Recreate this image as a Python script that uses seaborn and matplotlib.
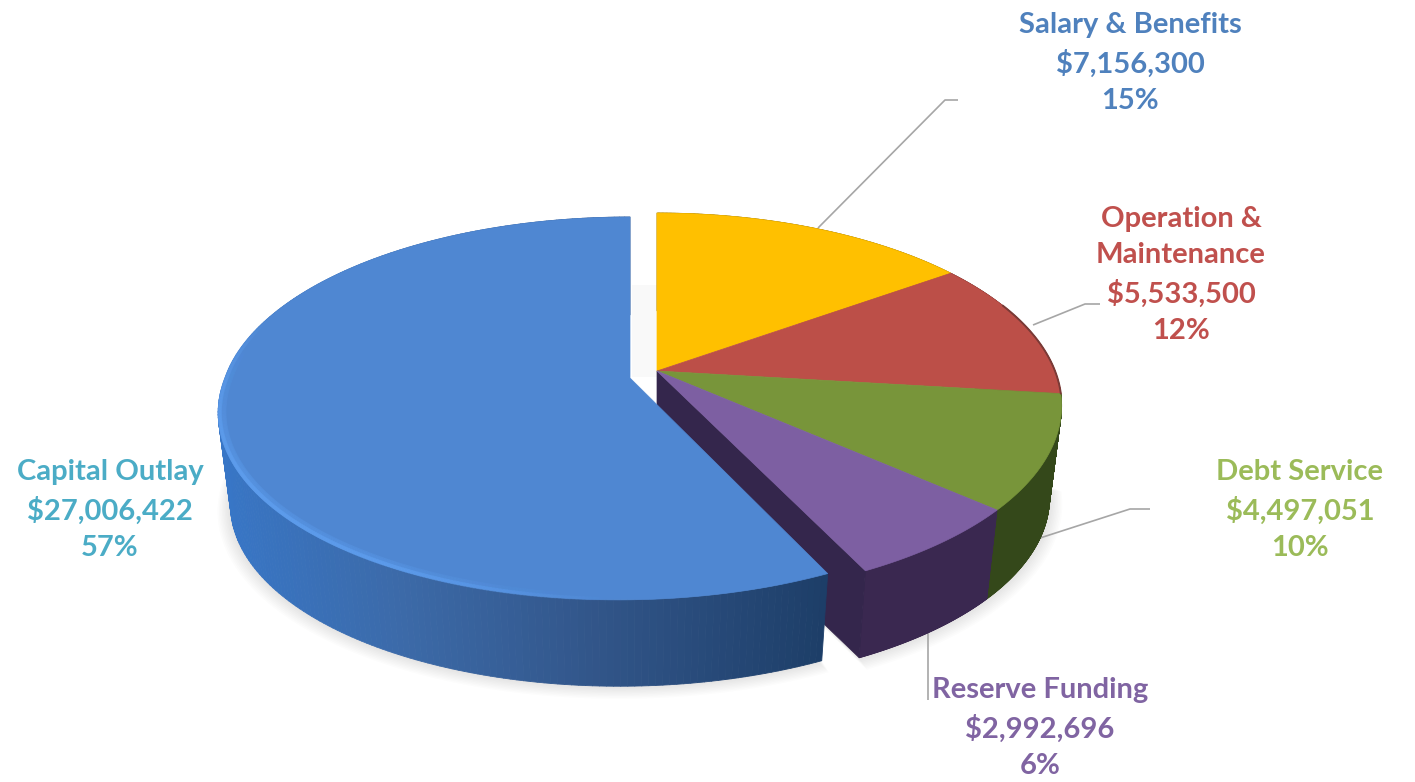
import numpy as np
import matplotlib
matplotlib.use("Agg")
import matplotlib.pyplot as plt
from matplotlib.collections import PolyCollection, LineCollection
from matplotlib.patches import Polygon, Rectangle
import seaborn as sns

# Budget figures, in dollars
categories = ["Salary & Benefits", "Operation &\nMaintenance", "Debt Service",
              "Reserve Funding", "Capital Outlay"]
amounts = [7156300, 5533500, 4497051, 2992696, 27006422]

sns.set_theme(style="white")
plt.rcParams["font.family"] = ["Lato", "DejaVu Sans"]

top_colors = sns.color_palette(["#FFC000", "#BC4F48", "#78953A", "#7D5FA2", "#4F87D2"])
side_colors = sns.color_palette(["#8C6A00", "#5E2723", "#34481A", "#3A2850", "#3A6FB5"])
label_colors = sns.color_palette(["#4F81BD", "#C0504D", "#9BBB59", "#8064A2", "#4BACC6"])

# Projection of the tilted disc onto the page, one set for each part of the pie
DEPTH, SHRINK = 93.0, 0.97
MAIN = dict(cx=657.0, cy=371.0, rx=398.0, ry=186.4, tilt=0.18, skew=0.0)
PULLED = dict(cx=630.0, cy=378.0, rx=405.0, ry=186.6, tilt=0.159, skew=0.05)

fig = plt.figure(figsize=(14.15, 7.82), dpi=100, facecolor="white")
ax = fig.add_axes([0, 0, 1, 1])
ax.set_xlim(0, 1415)
ax.set_ylim(782, 0)
ax.axis("off")


def top_point(disc, deg, r=1.0):
    t = np.radians(deg)
    x, y = r * np.sin(t), r * np.cos(t)
    w = 1 + disc["tilt"] * y
    dy = -disc["ry"] * y / w
    dx = disc["rx"] * x / w - disc["skew"] * np.maximum(dy, 0)
    return disc["cx"] + dx, disc["cy"] + dy


def bottom_point(disc, deg, r=1.0):
    px, py = top_point(disc, deg, r)
    return disc["cx"] + SHRINK * (px - disc["cx"]), disc["cy"] + DEPTH + SHRINK * (py - disc["cy"])


def arc(func, disc, a, b, n=160, r=1.0):
    degs = np.linspace(a, b, n)
    xs, ys = func(disc, degs, r)
    return np.column_stack([xs, ys])


def side_strip(disc, a, b, colour_at, z):
    degs = np.linspace(a, b, 240)
    tx, ty = top_point(disc, degs)
    bx, by = bottom_point(disc, degs)
    quads, cols = [], []
    for i in range(len(degs) - 1):
        quads.append([(tx[i], ty[i]), (tx[i + 1], ty[i + 1]), (bx[i + 1], by[i + 1]), (bx[i], by[i])])
        cols.append(colour_at((tx[i] + tx[i + 1]) / 2))
    ax.add_collection(PolyCollection(quads, facecolors=cols, edgecolors=cols, linewidths=0.6, zorder=z))


def top_face(disc, a, b, colour, z):
    pts = np.vstack([[(disc["cx"], disc["cy"])], arc(top_point, disc, a, b)])
    ax.add_patch(Polygon(pts, closed=True, facecolor=colour, edgecolor=colour, linewidth=0.5, zorder=z))


edges = 360.0 * np.concatenate([[0], np.cumsum(amounts)]) / np.sum(amounts)

# Soft ground shadow under the disc
for k in range(1, 10):
    for disc, a, b in [(PULLED, edges[4], 360.0), (MAIN, edges[2], edges[4])]:
        rim = arc(bottom_point, disc, a, b, r=1.0 + k * 0.0035)
        rim[:, 1] += k * 0.5
        pts = np.vstack([[(disc["cx"], disc["cy"] + DEPTH)], rim])
        ax.add_patch(Polygon(pts, closed=True, facecolor="#6a5a50", edgecolor="none",
                             alpha=0.016, zorder=1))
ax.add_patch(Rectangle((632, 285), 25, 92, facecolor="#9a9a9a", edgecolor="none", alpha=0.05, zorder=1))

# Side walls of the segments that stay in place
for i in (0, 1, 2, 3):
    side_strip(MAIN, edges[i], edges[i + 1], lambda x, c=side_colors[i]: c, 2)

a3 = edges[4]
apex = (MAIN["cx"], MAIN["cy"])
apex_bottom = (MAIN["cx"], MAIN["cy"] + DEPTH)
cut_face = [apex, top_point(MAIN, a3), bottom_point(MAIN, a3), apex_bottom]
ax.add_patch(Polygon(cut_face, closed=True, facecolor="#34264C", edgecolor="#34264C", linewidth=0.5, zorder=2))

for i in (0, 1, 2, 3):
    top_face(MAIN, edges[i], edges[i + 1], top_colors[i], 3)

# Darker lip where the red segment turns away towards the wall
ax.plot(*arc(top_point, MAIN, 68, edges[2], n=60).T, color="#7A3A36", lw=1.4, zorder=4,
        solid_capstyle="round")

# Wall of the pulled-out segment, shaded across the page
stops_x = [218, 400, 590, 828]
stops_rgb = np.array([[56, 118, 198], [60, 106, 168], [50, 86, 138], [29, 62, 104]]) / 255.0


def blue_wall(x):
    return tuple(np.interp(x, stops_x, stops_rgb[:, c]) for c in range(3))


side_strip(PULLED, edges[4], 360.0, blue_wall, 5)
top_face(PULLED, edges[4], 360.0, top_colors[4], 6)

# Bevel highlight running along the front rim
degs = np.linspace(180, 290, 260)
fade = np.clip(np.minimum((degs - 180) / 30.0, (290 - degs) / 50.0), 0, 1)
for r, width, peak in [(0.996, 3.0, 0.6), (0.988, 5.0, 0.15)]:
    xs, ys = top_point(PULLED, degs, r)
    segs = np.stack([np.column_stack([xs[:-1], ys[:-1]]), np.column_stack([xs[1:], ys[1:]])], axis=1)
    rgba = np.tile(matplotlib.colors.to_rgb("#5E9EEE"), (len(segs), 1))
    rgba = np.column_stack([rgba, peak * fade[:-1]])
    ax.add_collection(LineCollection(segs, colors=rgba, linewidths=width, zorder=7, capstyle="round"))

# Leader lines from the segments to their captions
leaders = [
    [(818, 228), (945, 100), (958, 100)],
    [(1033, 325), (1085, 304), (1100, 304)],
    [(1040, 538), (1130, 509), (1150, 509)],
    [(928, 632), (928, 700)],
]
for path in leaders:
    xs, ys = zip(*path)
    ax.plot(xs, ys, color="#A6A6A6", lw=1.2, zorder=1.5, solid_capstyle="butt")

# Captions: name, amount and share
caption_xy = [(1130, 63), (1181, 275), (1300, 510), (1040, 728), (110, 510)]
total = sum(amounts)
for name, value, colour, (cx, cy) in zip(categories, amounts, label_colors, caption_xy):
    share = round(100 * value / total)
    ax.text(cx, cy, f"{name}\n${value:,}\n{share}%", color=colour, ha="center", va="center",
            fontsize=21, fontweight="bold", linespacing=1.5, parse_math=False, zorder=8)

fig.savefig("out.png", dpi=100, facecolor="white")
